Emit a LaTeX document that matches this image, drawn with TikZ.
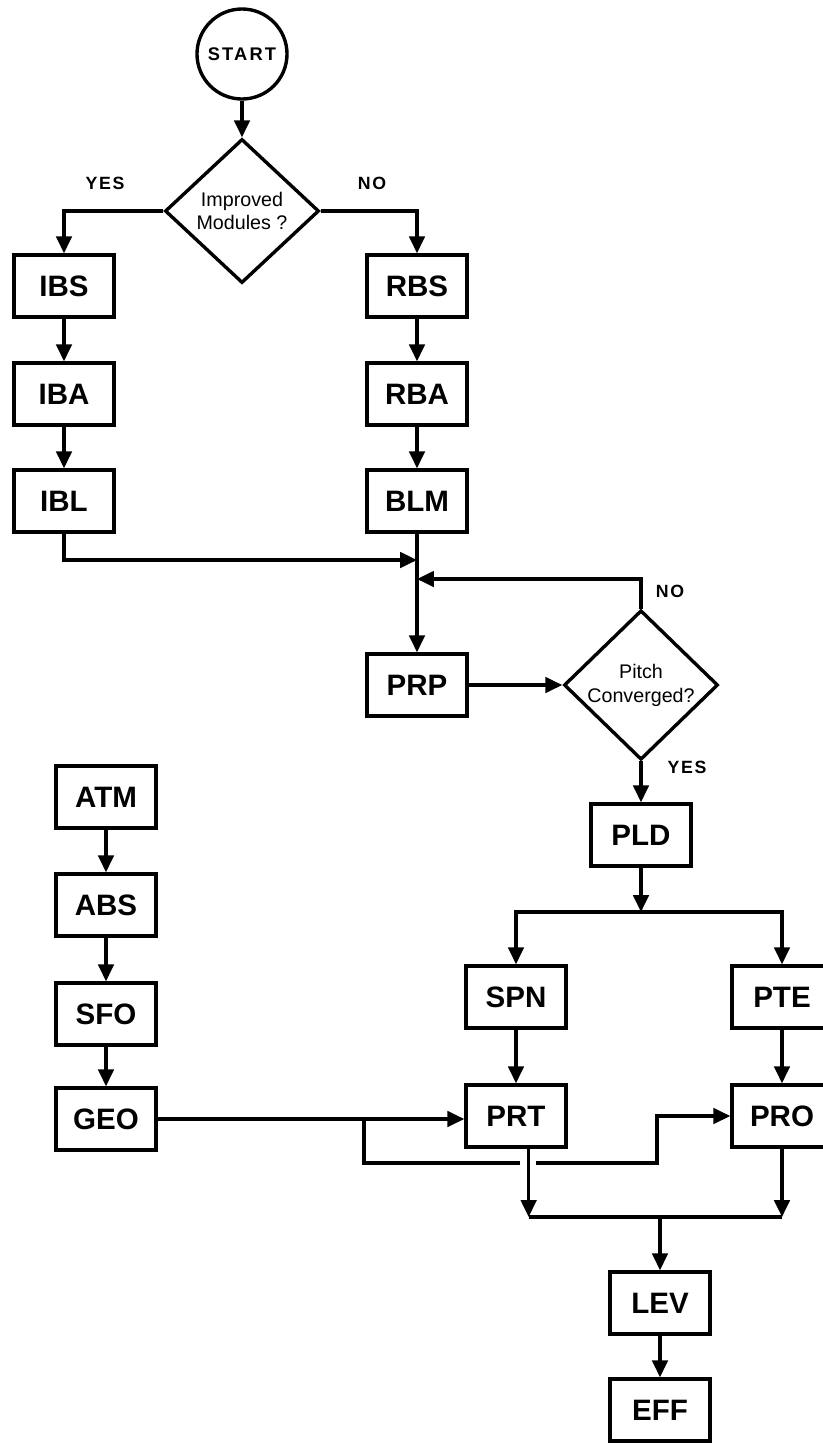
\documentclass[tikz,border=0pt]{standalone}
\usepackage{fontspec}
\setmainfont{Liberation Sans}
\usetikzlibrary{shapes.geometric,arrows.meta}

\begin{document}
\begin{tikzpicture}[
        % 座標單位:1 = 一個像素
        x=0.025cm, y=-0.025cm,
        % 模組方框樣式
        module/.style={
            draw=black,
            line width=2.4pt,
            minimum width=2.5cm,
            minimum height=1.55cm,
            inner sep=0pt,
            font=\fontsize{21}{24}\selectfont\bfseries
        },
        % 判斷菱形樣式
        decision/.style={
            diamond,
            draw=black,
            line width=2.4pt,
            minimum width=3.85cm,
            minimum height=3.6cm,
            inner sep=0pt,
            align=center,
            font=\fontsize{14}{17}\selectfont
        },
        % 起點圓形樣式
        start_circle/.style={
            circle,
            draw=black,
            line width=2.4pt,
            minimum size=2.25cm,
            inner sep=0pt,
            font=\fontsize{13}{15}\selectfont\bfseries\addfontfeature{LetterSpace=12}
        },
        % YES / NO 標籤
        tag/.style={
            inner sep=0pt,
            font=\fontsize{12.6}{14}\selectfont\bfseries\addfontfeature{LetterSpace=10}
        },
        % 連線樣式
        flow/.style={
            draw=black,
            line width=2.2pt
        },
        flow_arrow/.style={
            flow,
            -{Triangle[length=12pt,width=11pt]}
        }
    ]
        \useasboundingbox (0,0) rectangle (823,1443);

        % ==========================
        % 上半部:START 與模組選擇
        % ==========================
        \node[start_circle] (start) at (242,54) {START};
        \node[decision] (q1) at (242,211) {Improved\\Modules ?};
        \node[tag] (q1yes) at (105,183) {YES};
        \node[tag] (q1no) at (372,183) {NO};

        \node[module] (ibs) at (64,286) {IBS};
        \node[module] (iba) at (64,394) {IBA};
        \node[module] (ibl) at (64,501) {IBL};

        \node[module] (rbs) at (417,286) {RBS};
        \node[module] (rba) at (417,394) {RBA};
        \node[module] (blm) at (417,501) {BLM};

        % ==========================
        % 中段:PRP 與收斂判斷
        % ==========================
        \node[module] (prp) at (417,685) {PRP};
        \node[decision] (q2) at (641,685) {Pitch\\Converged?};
        \node[tag] (q2no) at (670,591) {NO};
        \node[tag] (q2yes) at (687,767) {YES};
        \node[module] (pld) at (641,835) {PLD};

        \coordinate (join1) at (417,560);
        \coordinate (join2) at (417,579);
        \coordinate (split) at (641,912);

        % ==========================
        % 下半部:大氣模組與輸出
        % ==========================
        \node[module] (atm) at (106,797) {ATM};
        \node[module] (abs) at (106,905) {ABS};
        \node[module] (sfo) at (106,1014) {SFO};
        \node[module] (geo) at (106,1119) {GEO};

        \node[module] (spn) at (516,997) {SPN};
        \node[module] (prt) at (516,1116) {PRT};
        \node[module] (pte) at (782,997) {PTE};
        \node[module] (pro) at (782,1116) {PRO};

        \node[module] (lev) at (660,1303) {LEV};
        \node[module] (eff) at (660,1410) {EFF};

        \coordinate (tap) at (364,1119);
        \coordinate (hopL) at (520,1163);
        \coordinate (hopR) at (536,1163);
        \coordinate (bend) at (657,1163);
        \coordinate (merge) at (660,1217);

        % ==========================
        % 連線
        % ==========================
        \draw[flow_arrow] (start) -- (q1);
        \draw[flow_arrow] (q1.west) -| (ibs.north);
        \draw[flow_arrow] (q1.east) -| (rbs.north);

        % 直線串接
        \foreach \a/\b in {ibs/iba, iba/ibl, rbs/rba, rba/blm, atm/abs, abs/sfo, sfo/geo, spn/prt, pte/pro, lev/eff} {
            \draw[flow_arrow] (\a) -- (\b);
        }

        \draw[flow_arrow] (blm) -- (prp);
        \draw[flow_arrow] (ibl.south) |- (join1);
        \draw[flow_arrow] (q2.north) |- (join2);
        \draw[flow_arrow] (prp.east) -- (q2.west);
        \draw[flow_arrow] (q2.south) -- (pld.north);

        \draw[flow_arrow] (pld.south) -- (split);
        \draw[flow_arrow] (split) -| (spn.north);
        \draw[flow_arrow] (split) -| (pte.north);

        % GEO 分支 (跨線處留空)
        \draw[flow_arrow] (geo.east) -- (geo.east -| prt.west);
        \draw[flow] (tap) |- (hopL);
        \draw[flow_arrow] (hopR) -- (bend) |- (pro.west);

        % 匯流至 LEV
        \draw[flow_arrow] ([xshift=9pt]prt.south) -- ([xshift=9pt]prt.south |- merge);
        \draw[flow_arrow] (pro.south) -- (pro.south |- merge);
        \draw[flow] ([xshift=9pt]prt.south |- merge) -- (pro.south |- merge);
        \draw[flow_arrow] (merge) -- (lev.north);

    \end{tikzpicture}
\end{document}
